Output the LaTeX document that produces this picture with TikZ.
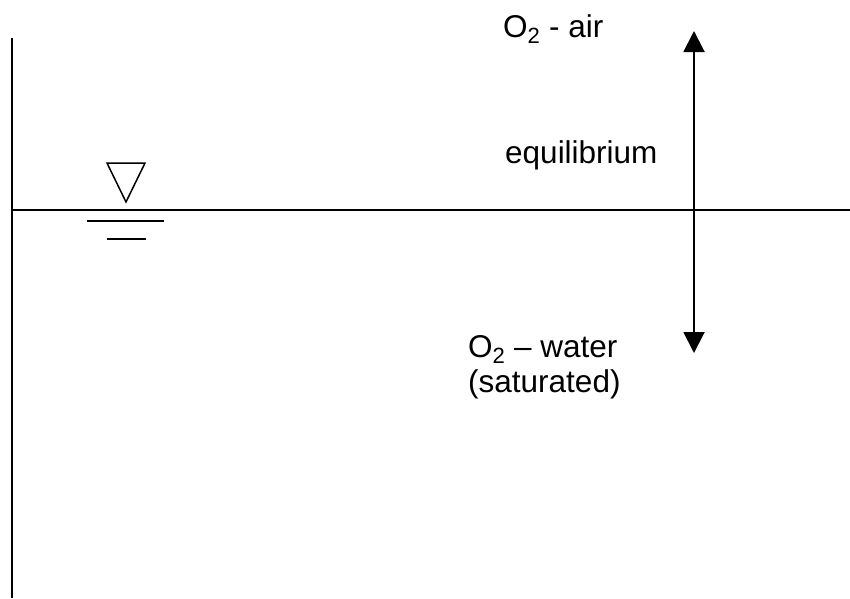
\documentclass[tikz,border=0pt]{standalone}
\usepackage{fontspec}
\setmainfont{Liberation Sans}
\usetikzlibrary{arrows.meta}
\begin{document}
\begin{tikzpicture}[x=1pt,y=-1pt,
  lbl/.style={anchor=base west,inner sep=0pt,font=\fontsize{31.5}{33}\selectfont},
  thick line/.style={line width=2pt},
  thin line/.style={line width=1.5pt}]
\useasboundingbox (0,0) rectangle (850,598);
% walls and surface
\draw[thick line] (12,38) -- (12,598);
\draw[thick line] (12,210) -- (850,210);
% water level symbol
\draw[thin line, line join=miter] (107,163) -- (145,163) -- (126,202) -- cycle;
\draw[thin line] (87,221) -- (164,221);
\draw[thin line] (107,239) -- (146,239);
% labels
\node[lbl] (air) at (503,37) {O\textsubscript{2} - air};
\node[lbl] (eq) at (505,163) {equilibrium};
\node[lbl] (water) at (468,357) {O\textsubscript{2} -- water};
\node[lbl] (sat) at (468,392) {(saturated)};
% arrow
\coordinate (top) at (694,31);
\coordinate (bot) at (694,353);
\draw[thick line, {Triangle[width=21pt,length=21pt]}-{Triangle[width=21pt,length=21pt]}] (top) -- (bot);
\end{tikzpicture}
\end{document}
